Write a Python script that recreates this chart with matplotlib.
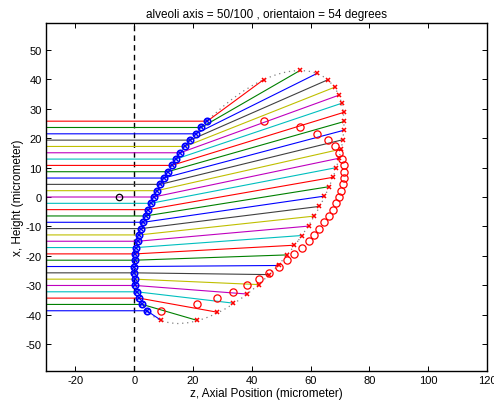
import matplotlib
matplotlib.use("Agg")
import matplotlib.pyplot as plt
from matplotlib.patches import Ellipse

plt.rcParams['font.family'] = ['Liberation Sans', 'DejaVu Sans']
plt.rcParams['axes.unicode_minus'] = False

# incoming ray heights (top to bottom)
ray_y = [25.8, 23.65, 21.5, 19.35, 17.2, 15.05, 12.9, 10.75, 8.6, 6.45, 4.3,
         2.15, 0.0, -2.15, -4.3, -6.45, -8.6, -10.75, -12.9, -15.05, -17.2,
         -19.35, -21.5, -23.65, -25.8, -27.95, -30.1, -32.25, -34.4, -36.55, -38.7]
# where each ray enters the alveolus wall
entry_x = [24.85, 22.79, 20.87, 19.05, 17.33, 15.71, 14.18, 12.73, 11.36, 10.06, 8.85,
           7.70, 6.63, 5.63, 4.71, 3.85, 3.08, 2.38, 1.76, 1.22, 0.77,
           0.42, 0.17, 0.02, 0.01, 0.14, 0.43, 0.92, 1.66, 2.75, 4.34]
# where each ray leaves again
exit_x = [44.0, 56.5, 62.3, 65.9, 68.3, 69.5, 70.6, 71.3, 71.5, 71.3, 71.0,
          70.4, 69.7, 68.8, 67.6, 66.2, 64.7, 63.0, 61.2, 59.3, 57.0,
          54.5, 51.9, 49.1, 45.8, 42.3, 38.3, 33.6, 28.3, 21.5, 9.2]
exit_y = [39.9, 43.1, 42.1, 39.9, 37.4, 34.6, 31.9, 28.8, 25.7, 22.7, 19.5,
          16.3, 13.2, 10.0, 6.7, 3.5, 0.3, -3.2, -6.5, -9.9, -13.1,
          -16.4, -19.7, -23.3, -26.4, -29.8, -33.0, -36.1, -39.2, -42.0, -42.0]

# alveolus outline
center = (35.68, 0.0)
major, minor, angle = 100, 50, 54
source = (-5.0, 0.0)

# old matlab color order, used from the bottom ray upwards
colors = [(0, 0, 1), (0, 0.5, 0), (1, 0, 0), (0, 0.75, 0.75),
          (0.75, 0, 0.75), (0.75, 0.75, 0), (0.25, 0.25, 0.25)]

fig = plt.figure(figsize=(4.94, 4.02), dpi=100)
ax = fig.add_axes([0.0931, 0.0746, 0.8927, 0.8657])

n = len(ray_y)
for i in range(n):
    c = colors[(n - 1 - i) % len(colors)]
    ax.plot([-30, entry_x[i], exit_x[i]], [ray_y[i], ray_y[i], exit_y[i]],
            color=c, lw=0.8, zorder=2)

ax.add_patch(Ellipse(center, major, minor, angle=angle, fill=False,
                     edgecolor='0.5', lw=0.9, linestyle=(0, (1, 3)), zorder=1))

ax.axvline(0, color='k', lw=1.0, linestyle=(0, (4, 3)), zorder=1)

ax.plot(entry_x, ray_y, 'o', mfc='none', mec='b', ms=4.6, mew=1.2, zorder=3)
ax.plot(entry_x, ray_y, 'x', color='b', ms=3.5, mew=1.1, zorder=3)
ax.plot(exit_x, ray_y, 'o', mfc='none', mec='r', ms=5.2, mew=0.9, zorder=3)
ax.plot(exit_x, exit_y, 'x', color='r', ms=3.5, mew=1.1, zorder=4)
ax.plot([source[0]], [source[1]], 'o', mfc='none', mec='k', ms=4.6, mew=0.9, zorder=3)

ax.set_xlim(-30, 120)
ax.set_ylim(-59.2, 59.2)
ax.set_xticks(range(-20, 121, 20))
ax.set_yticks(range(-50, 51, 10))
ax.tick_params(direction='in', top=True, right=True, length=3.5, width=0.7,
               labelsize=8, pad=3)
for s in ax.spines.values():
    s.set_linewidth(1.0)

ax.set_title('alveoli axis = 50/100 , orientaion = 54 degrees', fontsize=8.5, pad=4)
ax.set_xlabel('z, Axial Position (micrometer)', fontsize=8.5, labelpad=1)
ax.set_ylabel('x, Height (micrometer)', fontsize=8.5, labelpad=1)

fig.savefig('out.png', dpi=100)
